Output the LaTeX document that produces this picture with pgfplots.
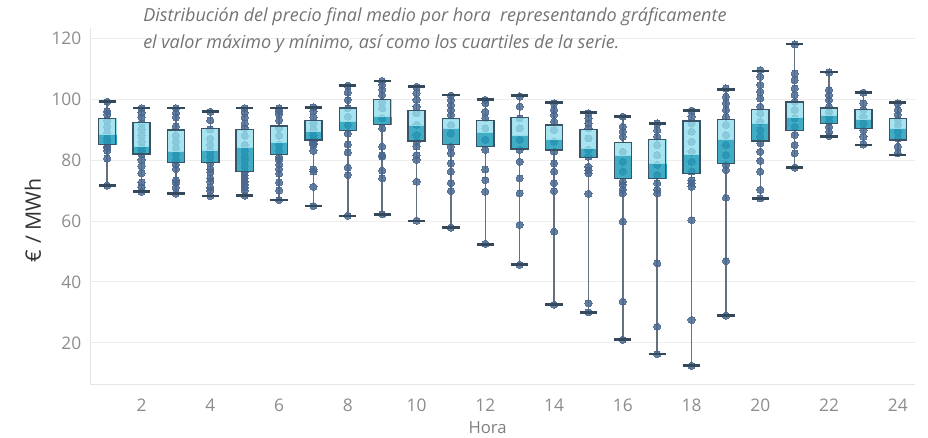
\documentclass[border=0pt]{standalone}
\usepackage{fontspec}
\setmainfont{Open Sans}
\usepackage{pgfplots}
\pgfplotsset{compat=1.18}
\usepgfplotslibrary{statistics}

\definecolor{boxhi}{HTML}{92DDEC}
\definecolor{boxlo}{HTML}{1F9CBA}
\definecolor{boxedge}{HTML}{3B5366}
\definecolor{dotc}{HTML}{4A6890}
\definecolor{capc}{HTML}{34495C}
\definecolor{stemc}{HTML}{66717B}
\definecolor{gridc}{HTML}{EDEDED}
\definecolor{tickc}{HTML}{8C8C8C}
\definecolor{titlec}{HTML}{737373}

\pgfplotsset{
  mybox/.style={
    boxplot/draw direction=y,
    boxplot/box extend=0.5,
    boxplot/whisker extend=0.5,
    boxplot/draw/box/.code={%
      \begin{pgfonlayer}{axis foreground}
      \fill[boxlo, fill opacity=0.84]
        (boxplot box cs:\pgfplotsboxplotvalue{lower quartile},0) rectangle
        (boxplot box cs:\pgfplotsboxplotvalue{median},1);
      \fill[boxhi, fill opacity=0.8]
        (boxplot box cs:\pgfplotsboxplotvalue{median},0) rectangle
        (boxplot box cs:\pgfplotsboxplotvalue{upper quartile},1);
      \draw[boxedge, line width=1pt]
        (boxplot box cs:\pgfplotsboxplotvalue{lower quartile},0) rectangle
        (boxplot box cs:\pgfplotsboxplotvalue{upper quartile},1);
      \end{pgfonlayer}
    },
    boxplot/draw/median/.code={},
    boxplot/draw/lower whisker/.code={%
      \draw[stemc, line width=1.1pt]
        (boxplot cs:\pgfplotsboxplotvalue{lower quartile}) --
        (boxplot cs:\pgfplotsboxplotvalue{lower whisker});
      \begin{pgfonlayer}{axis foreground}
      \draw[capc, line width=2pt]
        (boxplot whisker cs:\pgfplotsboxplotvalue{lower whisker},0) --
        (boxplot whisker cs:\pgfplotsboxplotvalue{lower whisker},1);
      \end{pgfonlayer}
    },
    boxplot/draw/upper whisker/.code={%
      \draw[stemc, line width=1.1pt]
        (boxplot cs:\pgfplotsboxplotvalue{upper quartile}) --
        (boxplot cs:\pgfplotsboxplotvalue{upper whisker});
      \begin{pgfonlayer}{axis foreground}
      \draw[capc, line width=2pt]
        (boxplot whisker cs:\pgfplotsboxplotvalue{upper whisker},0) --
        (boxplot whisker cs:\pgfplotsboxplotvalue{upper whisker},1);
      \end{pgfonlayer}
    },
  }
}

% hour, min, q1, median, q3, max
\newcommand{\bx}[6]{%
  \addplot[mybox, boxplot prepared={draw position=#1,
    lower whisker=#2, lower quartile=#3, median=#4,
    upper quartile=#5, upper whisker=#6}] coordinates {};}

\begin{document}
\begin{tikzpicture}
\begin{axis}[
  name=ax,
  set layers,
  scale only axis,
  width=618.75pt, height=267pt,
  xmin=0.5, xmax=24.5,
  ymin=6.5, ymax=123.3,
  xtick={2,4,...,24},
  ytick={20,40,...,120},
  major tick length=0pt,
  ymajorgrids,
  grid style={gridc, line width=0.6pt},
  axis lines*=left,
  axis line style={-, draw=black!10, line width=0.6pt},
  /pgf/number format/assume math mode=true,
  ticklabel style={font=\fontsize{13}{15}\selectfont, text=tickc},
  xticklabel style={yshift=-8pt},
  yticklabel style={xshift=-3pt},
  xlabel={Hora},
  ylabel={€ / MWh},
  xlabel style={font=\fontsize{12.5}{14}\selectfont, text=tickc!90!black,
    at={(ticklabel cs:0.482)}, yshift=-0.5pt},
  ylabel style={font=\fontsize{16}{18}\selectfont, text=black!80,
    at={(ticklabel cs:0.46)}, yshift=1pt},
  clip=false,
]

% individual daily prices per hour (the boxes are drawn over them)
\addplot[only marks, mark=*, mark size=2.7pt, color=dotc,
  mark options={draw=dotc, fill=dotc, line width=0pt, opacity=0.85}] coordinates {
(1,99.1) (1,96) (1,95) (1,93) (1,91) (1,89) (1,87) (1,86) (1,84.5) (1,84) (1,83) (1,80.5) (1,71.6)
(2,97) (2,95.5) (2,94) (2,92) (2,90) (2,88) (2,86) (2,84) (2,83) (2,82) (2,80) (2,78) (2,75.6) (2,72.6) (2,71) (2,69.6)
(3,97) (3,95.5) (3,94) (3,91) (3,88) (3,86) (3,84) (3,82) (3,80) (3,78.5) (3,77) (3,73.4) (3,72.5) (3,71) (3,69)
(4,95.8) (4,93) (4,90) (4,87) (4,85) (4,83) (4,81) (4,79) (4,77) (4,76) (4,74) (4,73) (4,71) (4,70) (4,68.2)
(5,97) (5,95.5) (5,94) (5,92) (5,90.5) (5,88) (5,85) (5,83) (5,81) (5,80) (5,78) (5,76) (5,75) (5,74) (5,73) (5,72) (5,71) (5,70) (5,68.3)
(6,97) (6,96) (6,95) (6,93) (6,90.5) (6,88) (6,85) (6,83) (6,81) (6,80) (6,78.5) (6,77) (6,75.5) (6,72.6) (6,70) (6,66.9)
(7,97.3) (7,96) (7,94) (7,92) (7,90) (7,88) (7,87) (7,86) (7,85.5) (7,85) (7,83) (7,77) (7,76.2) (7,71.2) (7,64.9)
(8,104.4) (8,102.2) (8,99.7) (8,97) (8,94.2) (8,91.5) (8,88.7) (8,85.1) (8,82.5) (8,77.5) (8,75.1) (8,61.7)
(9,105.9) (9,104.6) (9,103) (9,101.3) (9,99.1) (9,97) (9,93.7) (9,90.4) (9,84.4) (9,81.6) (9,81.1) (9,76.5) (9,74) (9,62.2)
(10,104) (10,101.9) (10,99.7) (10,97.5) (10,95.3) (10,91.5) (10,88.2) (10,86) (10,84.4) (10,81.6) (10,80) (10,72.9) (10,60.1)
(11,101.1) (11,99.7) (11,98) (11,96.4) (11,94.8) (11,91.5) (11,88.7) (11,84.4) (11,82.2) (11,78.9) (11,76.2) (11,72.4) (11,69.8) (11,57.8)
(12,99.7) (12,98.6) (12,95.8) (12,93.7) (12,90.4) (12,86.6) (12,83.3) (12,76.9) (12,73.4) (12,69.6) (12,52.5)
(13,100.8) (13,97.5) (13,93.7) (13,90.4) (13,86.6) (13,83.3) (13,79.4) (13,74) (13,69.1) (13,58.7) (13,45.6)
(14,98.6) (14,96.4) (14,94.8) (14,92.6) (14,89.8) (14,86) (14,82.7) (14,78.9) (14,76.2) (14,72.4) (14,69.8) (14,56.5) (14,32.5)
(15,95.3) (15,93.7) (15,92) (15,90.4) (15,87.1) (15,83.3) (15,81.1) (15,77.8) (15,76.7) (15,75.6) (15,68.9) (15,33) (15,30)
(16,94.2) (16,90.9) (16,89.3) (16,87.6) (16,82.7) (16,79.4) (16,76.2) (16,72.9) (16,71.8) (16,70.2) (16,69.1) (16,59.8) (16,33.5) (16,21)
(17,92) (17,89.8) (17,87.6) (17,84.9) (17,81.6) (17,78.4) (17,75.1) (17,72.4) (17,70.2) (17,69.1) (17,46.1) (17,25.3) (17,16.3)
(18,96.2) (18,94.2) (18,92) (18,89.3) (18,86) (18,82.7) (18,79.4) (18,76.2) (18,73.4) (18,72.4) (18,71.2) (18,60.3) (18,27.5) (18,12.5)
(19,103.5) (19,100.8) (19,98.6) (19,96.4) (19,94.2) (19,91.5) (19,88.2) (19,84.9) (19,81.6) (19,78.4) (19,76.7) (19,67.6) (19,46.9) (19,28.9)
(20,109.5) (20,107.3) (20,104.6) (20,102.4) (20,100.2) (20,97.5) (20,95.3) (20,92.6) (20,89.8) (20,87.6) (20,85.5) (20,82.7) (20,79.7) (20,76.2) (20,70.2) (20,67.4)
(21,117.9) (21,108.4) (21,106.2) (21,103.5) (21,101.3) (21,99.1) (21,96.4) (21,93.7) (21,90.9) (21,88.2) (21,84.9) (21,82.2) (21,77.5)
(22,108.7) (22,103) (22,101.3) (22,99.7) (22,97.5) (22,95.8) (22,94.2) (22,92.6) (22,90.9) (22,89.3) (22,87.9)
(23,102.1) (23,98.6) (23,96.4) (23,94.2) (23,92) (23,89.8) (23,87.6) (23,85.1)
(24,98.6) (24,96.4) (24,94.8) (24,93.1) (24,91.5) (24,89.3) (24,87.1) (24,84.4) (24,82.2)
};

\bx{1}{71.6}{85.1}{88.5}{93.7}{99.1}
\bx{2}{69.6}{82.0}{84.4}{92.2}{97.0}
\bx{3}{69.0}{79.1}{83.0}{89.8}{97.0}
\bx{4}{68.2}{79.1}{83.3}{90.4}{95.8}
\bx{5}{68.3}{76.2}{84.2}{90.0}{97.0}
\bx{6}{66.9}{81.9}{85.9}{91.1}{97.0}
\bx{7}{64.9}{86.6}{89.3}{92.9}{97.3}
\bx{8}{61.6}{89.6}{92.6}{97.0}{104.4}
\bx{9}{62.2}{91.7}{94.4}{99.9}{105.9}
\bx{10}{60.0}{86.2}{91.5}{96.2}{104.0}
\bx{11}{57.8}{85.1}{90.4}{93.5}{101.3}
\bx{12}{52.3}{84.4}{89.0}{92.9}{99.9}
\bx{13}{45.6}{83.6}{88.1}{94.0}{101.1}
\bx{14}{32.5}{83.3}{86.8}{91.5}{98.8}
\bx{15}{30.0}{80.9}{83.8}{90.0}{95.5}
\bx{16}{21.0}{74.0}{81.4}{85.8}{94.2}
\bx{17}{16.3}{74.0}{78.9}{86.8}{92.0}
\bx{18}{12.6}{75.6}{81.9}{92.8}{96.2}
\bx{19}{28.9}{78.9}{86.8}{93.3}{103.2}
\bx{20}{67.4}{86.2}{92.2}{96.6}{109.2}
\bx{21}{77.5}{89.6}{94.0}{99.0}{118.0}
\bx{22}{87.6}{92.0}{94.8}{97.0}{108.9}
\bx{23}{84.9}{90.3}{93.3}{96.6}{102.2}
\bx{24}{81.6}{86.6}{90.3}{93.7}{98.8}
\end{axis}

\node[anchor=west, text=titlec, font=\itshape\fontsize{13.5}{15}\selectfont, inner sep=0pt]
  at ([xshift=39.75pt, yshift=8.25pt]ax.north west)
  {Distribución del precio final medio por hora\ \ representando gráficamente};
\node[anchor=west, text=titlec, font=\itshape\fontsize{13.5}{15}\selectfont, inner sep=0pt]
  at ([xshift=39.75pt, yshift=-12pt]ax.north west)
  {el valor máximo y mínimo, así como los cuartiles de la serie.};

\pgfresetboundingbox
\path[use as bounding box] ([xshift=-67.5pt, yshift=-39.75pt]ax.south west)
  rectangle ([xshift=9.75pt, yshift=21pt]ax.north east);
\end{tikzpicture}
\end{document}
